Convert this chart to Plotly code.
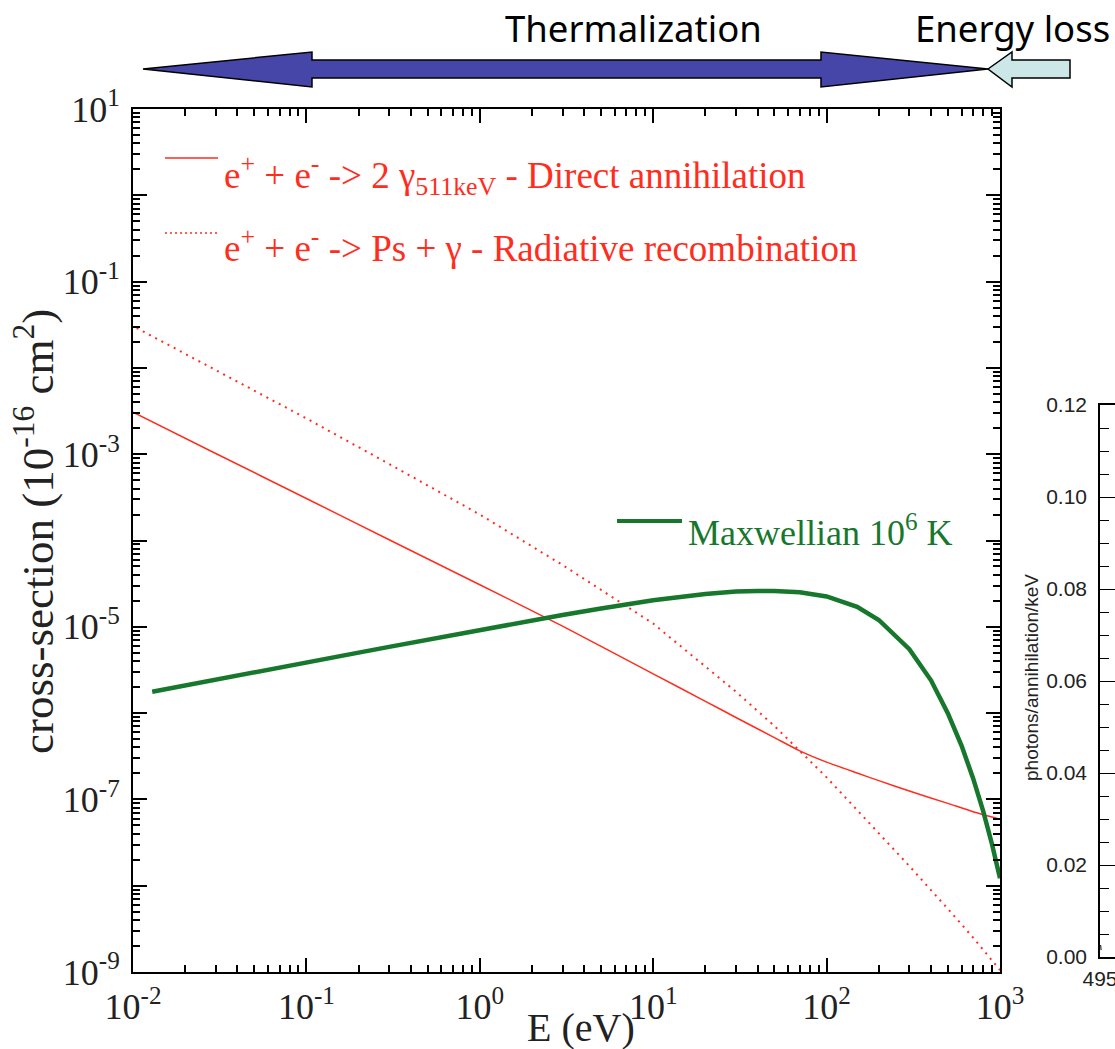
import plotly.graph_objects as go

W, H = 1115, 1049

# ---------------- data ----------------
E_direct = [0.01, 0.03, 0.1, 0.3, 1, 3, 10, 20, 30, 50, 70, 100, 150, 200, 300, 500, 700, 1000]
sigma_direct = [3.07e-3, 1.02e-3, 3.07e-4, 1.02e-4, 3.07e-5, 1.02e-5, 2.85e-6, 1.37e-6,
                8.9e-7, 5.2e-7, 3.65e-7, 2.7e-7, 2.02e-7, 1.65e-7, 1.25e-7, 9.0e-8,
                7.2e-8, 5.9e-8]

E_radiative = [0.0105, 0.03, 0.1, 0.3, 1, 3, 10, 30, 50, 100, 200, 300, 500, 700, 1000]
sigma_radiative = [2.9e-2, 9.5e-3, 2.6e-3, 7.7e-4, 2.0e-4, 5.2e-5, 1.09e-5, 1.77e-6,
                   7.1e-7, 1.8e-7, 4.1e-8, 1.69e-8, 5.4e-9, 2.5e-9, 1.05e-9]

E_maxwell = [0.0129, 0.02, 0.03, 0.05, 0.1, 0.2, 0.3, 0.5, 1, 2, 3, 5, 10, 20, 30, 40, 50,
             70, 100, 150, 200, 300, 400, 500, 600, 700, 800, 900, 1000]
f_maxwell = [1.77e-6, 2.10e-6, 2.44e-6, 2.97e-6, 3.86e-6, 5.02e-6, 5.85e-6, 7.09e-6,
             9.18e-6, 1.18e-5, 1.37e-5, 1.63e-5, 2.03e-5, 2.40e-5, 2.56e-5, 2.60e-5,
             2.60e-5, 2.52e-5, 2.25e-5, 1.70e-5, 1.20e-5, 5.5e-6, 2.4e-6, 1.0e-6,
             4.2e-7, 1.75e-7, 7.3e-8, 3.0e-8, 1.22e-8]

E_spec = [495.0, 495.5, 495.7]
spec_values = [0.0025, 0.0025, 0.0015]

x_decades = [-2, -1, 0, 1, 2, 3]
y_decades = list(range(-9, 2))
spec_ticks = [0.0, 0.02, 0.04, 0.06, 0.08, 0.10, 0.12]
spec_tick_labels = ["0.00", "0.02", "0.04", "0.06", "0.08", "0.10", "0.12"]

# ---------------- styling ----------------
serif = "Liberation Serif, Times New Roman, serif"
sans = "Liberation Sans, Arial, sans-serif"
comic = "Comic Sans MS, Noto Sans, sans-serif"
red = "#ff2d1e"
green = "#17782d"
ink = "#222222"


def px(x):
    return x / W


def py(y):
    return 1 - y / H


fig = go.Figure()
fig.add_trace(go.Scatter(x=E_direct, y=sigma_direct, mode="lines",
                         line=dict(color=red, width=1.5, shape="spline", smoothing=0.6),
                         showlegend=False))
fig.add_trace(go.Scatter(x=E_radiative, y=sigma_radiative, mode="lines",
                         line=dict(color=red, width=2, dash="2px,5px"), showlegend=False))
fig.add_trace(go.Scatter(x=E_maxwell, y=f_maxwell, mode="lines",
                         line=dict(color=green, width=4.5), showlegend=False))
fig.add_trace(go.Scatter(x=E_spec, y=spec_values, mode="lines", xaxis="x2", yaxis="y2",
                         line=dict(color="black", width=1), showlegend=False))

xt = [10.0 ** k for k in x_decades]
xtt = [f"10<sup>{k}</sup>" for k in x_decades]
xminor = [m * 10.0 ** k for k in range(-2, 3) for m in range(2, 10)]
yt = [10.0 ** k for k in y_decades]
ytt = [f"10<sup>{k}</sup>" if k % 2 else "" for k in y_decades]
yminor = [m * 10.0 ** k for k in range(-9, 1) for m in range(2, 10)]

common = dict(showline=True, linecolor="black", linewidth=2, mirror="ticks",
              ticks="inside", ticklen=14, tickwidth=1.5, tickcolor="black",
              showgrid=False, zeroline=False, tickmode="array", automargin=False)

fig.update_layout(
    template="none",
    width=W, height=H, margin=dict(l=0, r=0, t=0, b=0, pad=0, autoexpand=False),
    paper_bgcolor="white", plot_bgcolor="white", showlegend=False,
    xaxis=dict(type="log", range=[-2, 3], domain=[px(133), px(1000)], anchor="y",
               tickvals=xt, ticktext=xtt,
               tickfont=dict(family=serif, size=36, color=ink),
               minor=dict(tickmode="array", tickvals=xminor, ticks="inside", ticklen=7,
                          tickwidth=1.5, tickcolor="black"),
               ticklabelstandoff=2, ticklabeloverflow="allow", **common),
    yaxis=dict(type="log", range=[-9, 1], domain=[py(972), py(109)], anchor="x",
               tickvals=yt, ticktext=ytt,
               tickfont=dict(family=serif, size=36, color=ink),
               minor=dict(tickmode="array", tickvals=yminor, ticks="inside", ticklen=7,
                          tickwidth=1.5, tickcolor="black"),
               ticklabelstandoff=4, ticklabeloverflow="allow", **common),
    xaxis2=dict(range=[495, 505], domain=[px(1100), 1.0], anchor="y2",
                showline=True, linecolor="black", linewidth=1.5, mirror=True,
                ticks="inside", ticklen=12, tickwidth=1, tickcolor="black",
                tickmode="array", tickvals=[495], ticktext=["495"],
                tickfont=dict(family=sans, size=21, color=ink), automargin=False,
                ticklabeloverflow="allow",
                showgrid=False, zeroline=False, ticklabelstandoff=2),
    yaxis2=dict(range=[0, 0.12], domain=[py(957), py(405)], anchor="x2",
                showline=True, linecolor="black", linewidth=1.5,
                ticks="inside", ticklen=15, tickwidth=1, tickcolor="black",
                tickmode="array", tickvals=spec_ticks, ticktext=spec_tick_labels,
                minor=dict(tickmode="array",
                           tickvals=[i * 0.005 for i in range(25) if i % 4],
                           ticks="inside", ticklen=9, tickwidth=1, tickcolor="black"),
                tickfont=dict(family=sans, size=21, color=ink), automargin=False,
                ticklabeloverflow="allow",
                showgrid=False, zeroline=False, ticklabelstandoff=7),
)

ann = []
ann.append(dict(text="cross-section (10<sup>-16</sup> cm<sup>2</sup>)", textangle=-90,
                x=px(34), y=py(532), xref="paper", yref="paper", showarrow=False,
                xanchor="center", yanchor="middle",
                font=dict(family=serif, size=45, color=ink)))
ann.append(dict(text="E (eV)", x=px(581), y=py(1027), xref="paper", yref="paper",
                showarrow=False, xanchor="center", yanchor="middle",
                font=dict(family=serif, size=40, color=ink)))
ann.append(dict(text="e<sup>+</sup> + e<sup>-</sup> -&gt; 2 γ<sub>511keV</sub> - Direct annihilation",
                x=px(222), y=py(175), xref="paper", yref="paper", showarrow=False,
                xanchor="left", yanchor="middle", font=dict(family=serif, size=37, color=red)))
ann.append(dict(text="e<sup>+</sup> + e<sup>-</sup> -&gt; Ps + γ - Radiative recombination",
                x=px(222), y=py(245), xref="paper", yref="paper", showarrow=False,
                xanchor="left", yanchor="middle", font=dict(family=serif, size=37, color=red)))
ann.append(dict(text="Maxwellian 10<sup>6</sup> K",
                x=px(686), y=py(530), xref="paper", yref="paper", showarrow=False,
                xanchor="left", yanchor="middle", font=dict(family=serif, size=36, color=green)))
ann.append(dict(text="Thermalization", x=px(633), y=py(28), xref="paper", yref="paper",
                showarrow=False, xanchor="center", yanchor="middle",
                font=dict(family=comic, size=36.5, color="black")))
ann.append(dict(text="Energy loss", x=px(1012), y=py(28), xref="paper", yref="paper",
                showarrow=False, xanchor="center", yanchor="middle",
                font=dict(family=comic, size=36.5, color="black")))
ann.append(dict(text="photons/annihilation/keV", textangle=-90,
                x=px(1031), y=py(678), xref="paper", yref="paper", showarrow=False,
                xanchor="center", yanchor="middle",
                font=dict(family=sans, size=19, color=ink)))
fig.update_layout(annotations=ann)


def path(points):
    return "M " + " L ".join(f"{px(x):.5f},{py(y):.5f}" for x, y in points) + " Z"


shapes = []
shapes.append(dict(type="line", xref="paper", yref="paper", x0=px(165), x1=px(218),
                   y0=py(158), y1=py(158), line=dict(color=red, width=1.5)))
shapes.append(dict(type="line", xref="paper", yref="paper", x0=px(165), x1=px(218),
                   y0=py(233), y1=py(233), line=dict(color=red, width=1.5, dash="2px,3px")))
shapes.append(dict(type="line", xref="paper", yref="paper", x0=px(617), x1=px(682),
                   y0=py(521), y1=py(521), line=dict(color=green, width=4)))
double_arrow = [(143, 69), (312, 52), (312, 60), (821, 60), (821, 52), (988, 69),
                (821, 87), (821, 78), (312, 78), (312, 87)]
shapes.append(dict(type="path", xref="paper", yref="paper", path=path(double_arrow),
                   fillcolor="#4646a8", line=dict(color="black", width=1.5)))
loss_arrow = [(988, 69), (1012, 52), (1012, 60), (1070, 60), (1070, 78), (1012, 78),
              (1012, 87)]
shapes.append(dict(type="path", xref="paper", yref="paper", path=path(loss_arrow),
                   fillcolor="#cbe7e8", line=dict(color="black", width=1.5)))
fig.update_layout(shapes=shapes)

fig.write_html("out.html")
